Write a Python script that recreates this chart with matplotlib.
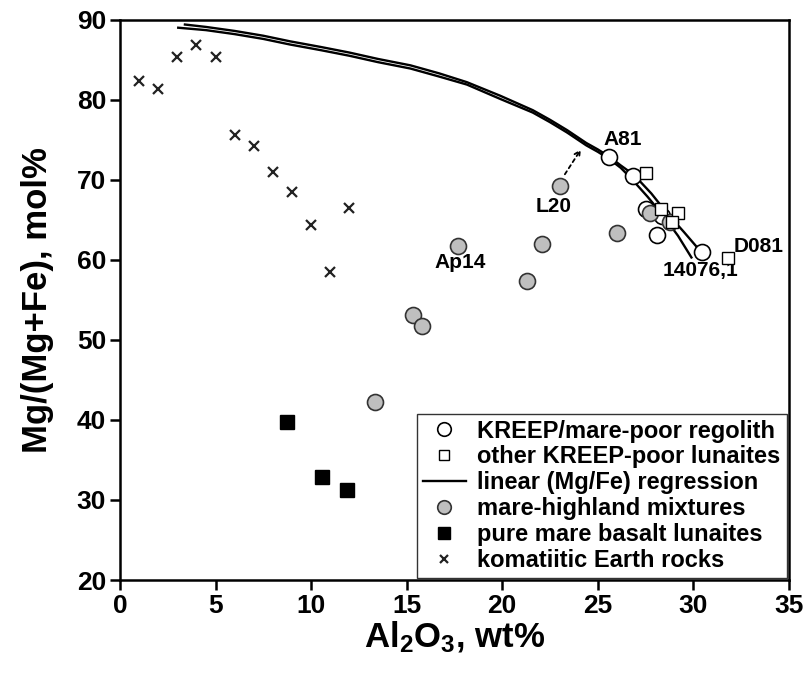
import matplotlib
matplotlib.use('Agg')
import matplotlib.pyplot as plt

plt.rcParams['font.family'] = ['Liberation Sans', 'DejaVu Sans']
plt.rcParams['mathtext.fontset'] = 'custom'
plt.rcParams['mathtext.rm'] = 'Liberation Sans:bold'
plt.rcParams['mathtext.default'] = 'rm'

# KREEP/mare-poor regolith (open circles)
kreep_x = [25.6, 26.85, 27.5, 28.35, 28.1, 30.45]
kreep_y = [72.8, 70.5, 66.3, 65.5, 63.1, 61.0]

# other KREEP-poor lunaites (open squares)
other_x = [27.5, 28.3, 29.2, 28.9, 31.8]
other_y = [70.9, 66.3, 65.8, 64.7, 60.2]

# mare-highland mixtures (grey circles)
mix_x = [23.0, 26.0, 22.1, 21.3, 17.7, 15.35, 15.8, 13.35, 27.75, 28.8]
mix_y = [69.25, 63.3, 62.0, 57.4, 61.75, 53.1, 51.7, 42.2, 65.8, 64.7]

# pure mare basalt lunaites (black squares)
mare_x = [8.75, 10.55, 11.9]
mare_y = [39.7, 32.9, 31.3]

# komatiitic Earth rocks (crosses)
kom_x = [1.0, 2.0, 3.0, 4.0, 5.0, 6.0, 7.0, 8.0, 9.0, 10.0, 11.0, 12.0]
kom_y = [82.3, 81.4, 85.3, 86.9, 85.3, 75.6, 74.25, 71.0, 68.5, 64.4, 58.5, 66.5]

# the two regression curves
reg1_x = [3.4, 4.5, 6.0, 7.5, 8.9, 10.5, 12.0, 13.5, 15.2, 16.7, 18.15, 19.9,
          21.6, 22.5, 23.4, 24.4, 25.0, 25.6, 26.2, 26.9, 27.8, 28.6, 29.5, 30.4]
reg1_y = [89.4, 89.1, 88.6, 88.0, 87.3, 86.6, 85.9, 85.1, 84.3, 83.3, 82.2, 80.5,
          78.7, 77.5, 76.2, 74.6, 73.8, 72.9, 71.8, 70.6, 68.3, 65.9, 63.5, 61.0]
reg2_x = [3.05, 4.5, 6.0, 7.5, 8.9, 10.5, 12.0, 13.5, 15.2, 16.7, 18.15, 19.9,
          21.6, 22.5, 23.4, 24.4, 25.0, 25.6, 26.2, 26.7, 27.6, 28.4, 29.2, 29.9]
reg2_y = [89.0, 88.7, 88.2, 87.6, 86.9, 86.2, 85.5, 84.7, 83.9, 82.9, 81.9, 80.1,
          78.4, 77.2, 75.9, 74.3, 73.5, 72.6, 71.5, 70.3, 67.9, 65.6, 63.0, 60.3]

fig = plt.figure(figsize=(8.05, 6.8), dpi=100)
ax = fig.add_axes([0.149, 0.147, 0.831, 0.824])

ax.plot(reg1_x, reg1_y, color='black', lw=1.7, zorder=2,
        label='linear (Mg/Fe) regression')
ax.plot(reg2_x, reg2_y, color='black', lw=1.7, zorder=2)

ax.plot(kreep_x, kreep_y, 'o', ms=11.5, mfc='white', mec='black', mew=1.2,
        zorder=3, label='KREEP/mare-poor regolith')
ax.plot(mix_x, mix_y, 'o', ms=11.5, mfc='#bfbfbf', mec='#333333', mew=1.2,
        zorder=4, label='mare-highland mixtures')
ax.plot(other_x, other_y, 's', ms=8.5, mfc='white', mec='black', mew=1.0,
        zorder=5, label='other KREEP-poor lunaites')
ax.plot(mare_x, mare_y, 's', ms=10, mfc='black', mec='black',
        zorder=5, label='pure mare basalt lunaites')
ax.plot(kom_x, kom_y, 'x', ms=7, mec='#222222', mew=1.6,
        zorder=5, label='komatiitic Earth rocks')

ax.annotate('', xy=(24.2, 74.1), xytext=(23.2, 70.4),
            arrowprops=dict(arrowstyle='->', ls=(0, (2, 2)), lw=1.3, color='black'))

lab = dict(fontsize=15, fontweight='bold', ha='center', va='center')
ax.text(26.3, 75.0, 'A81', **lab)
ax.text(22.7, 66.7, 'L20', **lab)
ax.text(17.8, 59.7, 'Ap14', **lab)
ax.text(33.4, 61.7, 'D081', **lab)
ax.text(30.4, 58.7, '14076,1', **lab)

ax.set_xlim(0, 35)
ax.set_ylim(20, 90)
ax.set_xticks(range(0, 36, 5))
ax.set_yticks(range(20, 91, 10))
ax.tick_params(direction='out', length=7, width=1.8, labelsize=19, pad=3)
for lbl in ax.get_xticklabels() + ax.get_yticklabels():
    lbl.set_fontweight('bold')
for s in ax.spines.values():
    s.set_linewidth(1.8)

ax.set_xlabel(r'Al$_2$O$_3$, wt%', fontsize=25, fontweight='bold', labelpad=1)
ax.set_ylabel('Mg/(Mg+Fe), mol%', fontsize=25, fontweight='bold', labelpad=16)

handles, labels = ax.get_legend_handles_labels()
order = ['KREEP/mare-poor regolith', 'other KREEP-poor lunaites',
         'linear (Mg/Fe) regression', 'mare-highland mixtures',
         'pure mare basalt lunaites', 'komatiitic Earth rocks']
hmap = dict(zip(labels, handles))
leg = ax.legend([hmap[k] for k in order], order, loc='lower right',
                bbox_to_anchor=(1.0, 0.0), borderaxespad=0.1, fontsize=17,
                frameon=True, fancybox=False, edgecolor='black',
                handlelength=1.8, handletextpad=0.5, labelspacing=0.12,
                borderpad=0.25, markerscale=0.85)
leg.get_frame().set_linewidth(1.0)
for t in leg.get_texts():
    t.set_fontweight('bold')

fig.savefig('out.png', dpi=100)
